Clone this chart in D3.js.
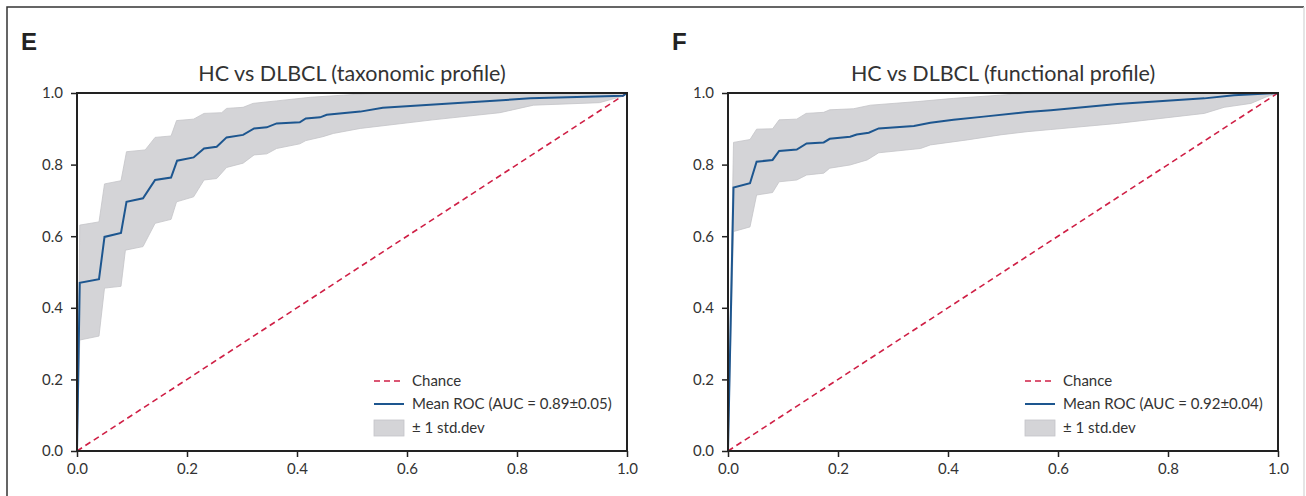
<!DOCTYPE html>
<meta charset="utf-8">
<style>
body { margin: 0; background: #fff; font-family: 'Lato', sans-serif; }
.tick text { font-family: 'Lato', sans-serif; font-size: 15px; fill: #333; }
</style>
<body>
<svg class="roc"></svg>
<script src="https://d3js.org/d3.v7.min.js"></script>
<script>
// canvas
let rwidth = 1306, rheight = 496;

// ---- panel E: taxonomic profile ----
let meanE = [[0,0],[0.005,0.47],[0.04,0.48],[0.05,0.598],[0.08,0.609],[0.09,0.696],[0.12,0.706],[0.142,0.757],
  [0.171,0.764],[0.182,0.811],[0.212,0.82],[0.231,0.845],[0.254,0.85],[0.272,0.876],[0.302,0.883],[0.322,0.901],
  [0.345,0.904],[0.363,0.915],[0.405,0.918],[0.416,0.929],[0.442,0.932],[0.454,0.939],[0.515,0.948],[0.556,0.959],
  [0.678,0.971],[0.824,0.985],[0.993,0.992],[1,1]];
let upperE = [[0,0],[0.005,0.631],[0.04,0.64],[0.05,0.746],[0.08,0.755],[0.09,0.836],[0.124,0.841],[0.142,0.876],
  [0.171,0.88],[0.181,0.923],[0.212,0.927],[0.231,0.943],[0.263,0.945],[0.272,0.957],[0.302,0.96],[0.32,0.971],
  [0.363,0.978],[0.424,0.988],[0.484,0.994],[0.515,0.997],[0.55,1],[1,1]];
let lowerE = [[0,0],[0.005,0.31],[0.04,0.321],[0.05,0.455],[0.08,0.46],[0.088,0.561],[0.12,0.571],[0.142,0.636],
  [0.171,0.647],[0.181,0.696],[0.212,0.71],[0.231,0.757],[0.254,0.761],[0.272,0.792],[0.302,0.804],[0.322,0.827],
  [0.345,0.83],[0.363,0.845],[0.405,0.858],[0.416,0.867],[0.447,0.878],[0.466,0.887],[0.515,0.901],[0.647,0.925],
  [0.769,0.945],[0.83,0.966],[0.95,0.973],[0.99,0.99],[1,1]];

// ---- panel F: functional profile ----
let meanF = [[0,0],[0.01,0.736],[0.04,0.748],[0.052,0.808],[0.081,0.813],[0.093,0.838],[0.125,0.842],[0.143,0.859],
  [0.174,0.862],[0.185,0.872],[0.222,0.878],[0.234,0.884],[0.256,0.889],[0.274,0.901],[0.338,0.908],[0.368,0.917],
  [0.41,0.925],[0.465,0.934],[0.544,0.947],[0.587,0.952],[0.708,0.969],[0.866,0.985],[0.92,0.994],[1,1]];
let upperF = [[0,0],[0.01,0.862],[0.04,0.87],[0.052,0.899],[0.081,0.9],[0.093,0.925],[0.125,0.927],[0.142,0.943],
  [0.174,0.946],[0.185,0.953],[0.228,0.956],[0.259,0.966],[0.344,0.976],[0.41,0.985],[0.495,0.994],[0.55,1],[1,1]];
let lowerF = [[0,0],[0.01,0.613],[0.04,0.626],[0.052,0.715],[0.081,0.722],[0.093,0.752],[0.125,0.757],[0.143,0.771],
  [0.174,0.776],[0.185,0.79],[0.222,0.799],[0.253,0.813],[0.274,0.833],[0.35,0.845],[0.368,0.855],[0.435,0.869],
  [0.495,0.883],[0.544,0.892],[0.587,0.898],[0.708,0.915],[0.866,0.943],[0.902,0.96],[0.951,0.971],[0.98,0.99],[1,1]];

let letters = ['E','F'];
let titles = ['HC vs DLBCL (taxonomic profile)', 'HC vs DLBCL (functional profile)'];
let aucLabels = ['Mean ROC (AUC = 0.89\u00b10.05)', 'Mean ROC (AUC = 0.92\u00b10.04)'];
let legendNames = ['Chance', null, '\u00b1 1 std.dev'];
let tickValues = [0, 0.2, 0.4, 0.6, 0.8, 1.0];

let panels = [
  {left: 77, mean: meanE, upper: upperE, lower: lowerE},
  {left: 728, mean: meanF, upper: upperF, lower: lowerF}
];

let plotW = 550, plotTop = 93, plotBottom = 451;

let colMean = '#1d568f', colChance = '#cf1f45', colBand = '#d4d4d7';

let svg = d3.select('.roc').attr('width', rwidth).attr('height', rheight);

// outer figure frame
svg.append('path').attr('d', 'M7,' + rheight + ' L7,7 L1304,7')
  .attr('fill', 'none').attr('stroke', '#333').attr('stroke-width', 1.5);
svg.append('line').attr('x1', 1304).attr('x2', 1304).attr('y1', 7).attr('y2', rheight)
  .attr('stroke', '#ddd').attr('stroke-width', 1.5);

panels.forEach((p, i) => {
  let xscale = d3.scaleLinear().domain([0, 1]).range([p.left, p.left + plotW]);
  let yscale = d3.scaleLinear().domain([0, 1]).range([plotBottom, plotTop]);
  let g = svg.append('g');

  // panel letter + title
  g.append('text').attr('x', p.left - 56).attr('y', 50)
    .style('font-family', "'Liberation Sans', Arial, sans-serif").style('font-weight', 'bold')
    .style('font-size', '24px').style('fill', '#222').text(letters[i]);
  g.append('text').attr('x', p.left + plotW / 2).attr('y', 81).attr('text-anchor', 'middle')
    .style('font-size', '21.5px').style('fill', '#333').text(titles[i]);

  // std band: upper edge then lower edge reversed
  let poly = p.upper.concat(p.lower.slice().reverse());
  let line = d3.line().x(d => xscale(d[0])).y(d => yscale(d[1]));
  g.append('path').attr('d', line(poly) + 'Z')
    .attr('fill', colBand).attr('stroke', '#c4c4c8').attr('stroke-width', 0.8);

  // chance
  g.append('path').attr('d', line([[0, 0], [1, 1]]))
    .attr('stroke', colChance).attr('stroke-width', 1.6).attr('stroke-dasharray', '6,4').attr('fill', 'none');

  // mean ROC
  g.append('path').attr('d', line(p.mean))
    .attr('stroke', colMean).attr('stroke-width', 2).attr('fill', 'none');

  // axes
  let xaxis = g.append('g').attr('transform', `translate(0,${plotBottom})`)
    .call(d3.axisBottom(xscale).tickValues(tickValues).tickFormat(d3.format('.1f')).tickSizeOuter(0).tickSize(6).tickPadding(6));
  let yaxis = g.append('g').attr('transform', `translate(${p.left},0)`)
    .call(d3.axisLeft(yscale).tickValues(tickValues).tickFormat(d3.format('.1f')).tickSizeOuter(0).tickSize(6).tickPadding(8));
  [xaxis, yaxis].forEach(a => {
    a.select('.domain').remove();
    a.selectAll('.tick line').attr('stroke', '#222').attr('stroke-width', 1.5);
  });

  // frame
  g.append('rect').attr('x', p.left).attr('y', plotTop).attr('width', plotW).attr('height', plotBottom - plotTop)
    .attr('fill', 'none').attr('stroke', '#222').attr('stroke-width', 2);

  // legend
  let lx = p.left + 297, ly = [381, 404, 428];
  let leg = g.append('g');
  leg.append('line').attr('x1', lx).attr('x2', lx + 30).attr('y1', ly[0]).attr('y2', ly[0])
    .attr('stroke', colChance).attr('stroke-width', 1.6).attr('stroke-dasharray', '6,4');
  leg.append('line').attr('x1', lx).attr('x2', lx + 30).attr('y1', ly[1]).attr('y2', ly[1])
    .attr('stroke', colMean).attr('stroke-width', 2);
  leg.append('rect').attr('x', lx).attr('y', ly[2] - 8).attr('width', 30).attr('height', 16)
    .attr('fill', colBand).attr('stroke', '#c4c4c8').attr('stroke-width', 0.8);
  let names = [legendNames[0], aucLabels[i], legendNames[2]];
  names.forEach((n, k) => {
    leg.append('text').attr('x', lx + 38).attr('y', ly[k]).attr('dy', '0.35em')
      .style('font-size', '15px').style('fill', '#333').text(n);
  });
});
</script>
</body>
